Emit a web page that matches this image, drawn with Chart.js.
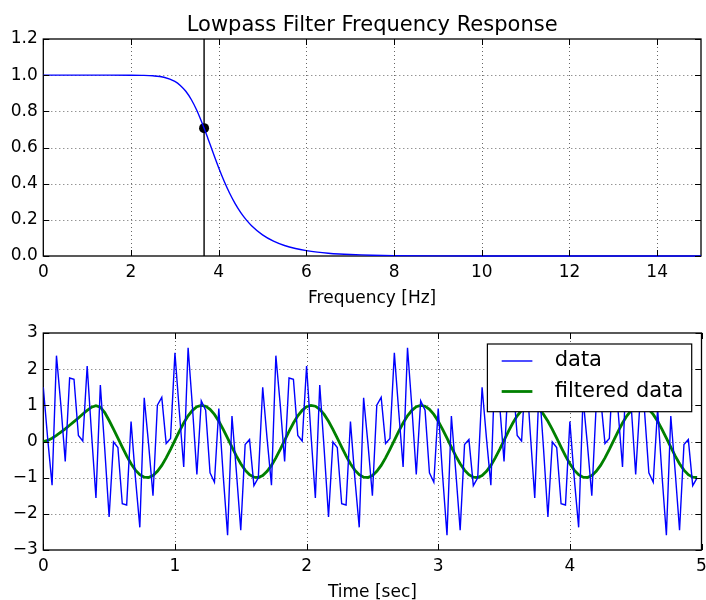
<!DOCTYPE html>
<html>
<head>
<meta charset="utf-8">
<script src="https://cdn.jsdelivr.net/npm/chart.js@4.4.1/dist/chart.umd.min.js"></script>
<style>
html, body { margin: 0; padding: 0; background: #fff; overflow: hidden; width: 706px; height: 600px; }
#c1 { position: absolute; left: 0; top: 0; }
#c2 { position: absolute; left: 0; top: 310px; }
</style>
</head>
<body>
<canvas id="c1" width="706" height="310"></canvas>
<canvas id="c2" width="706" height="300"></canvas>
<script>
// ---------- Top chart: frequency response ----------
const FREQ_HZ = [0, 0.5, 1, 1.5, 2, 2.25, 2.5, 2.75, 3, 3.125, 3.25, 3.375, 3.5, 3.667, 3.75, 3.875,
  4, 4.125, 4.25, 4.375, 4.5, 4.625, 4.75, 5, 5.25, 5.5, 5.75, 6, 6.25, 6.5, 6.75, 7, 7.25, 7.5,
  8, 9, 10, 11, 12, 13, 14, 15];
const GAIN = [1, 1, 1, 1, 0.9998, 0.999, 0.9964, 0.9882, 0.9654, 0.9434, 0.9109, 0.8654, 0.8059, 0.7071, 0.653, 0.5692,
  0.488, 0.4131, 0.3468, 0.2898, 0.2415, 0.2011, 0.1675, 0.1168, 0.082, 0.058, 0.0413, 0.0296, 0.0213, 0.0154, 0.0112, 0.0082, 0.006, 0.0044,
  0.0023, 0.0006, 0.0002, 0.00003, 0.000005, 0, 0, 0];
const CUTOFF_HZ = 3.667;
const CUTOFF_GAIN = 0.7071;
const FREQ_TICKS = [0, 2, 4, 6, 8, 10, 12, 14];
const GAIN_TICKS = [0, 0.2, 0.4, 0.6, 0.8, 1.0, 1.2];

// ---------- Bottom chart: time signal ----------
const TIME_SEC = [
  0,0.0333,0.0667,0.1,0.1333,0.1667,0.2,0.2333,0.2667,0.3,0.3333,0.3667,0.4,0.4333,0.4667,0.5,0.5333,0.5667,0.6,0.6333,0.6667,0.7,0.7333,0.7667,0.8,0.8333,0.8667,0.9,0.9333,0.9667,
  1,1.0333,1.0667,1.1,1.1333,1.1667,1.2,1.2333,1.2667,1.3,1.3333,1.3667,1.4,1.4333,1.4667,1.5,1.5333,1.5667,1.6,1.6333,1.6667,1.7,1.7333,1.7667,1.8,1.8333,1.8667,1.9,1.9333,1.9667,
  2,2.0333,2.0667,2.1,2.1333,2.1667,2.2,2.2333,2.2667,2.3,2.3333,2.3667,2.4,2.4333,2.4667,2.5,2.5333,2.5667,2.6,2.6333,2.6667,2.7,2.7333,2.7667,2.8,2.8333,2.8667,2.9,2.9333,2.9667,
  3,3.0333,3.0667,3.1,3.1333,3.1667,3.2,3.2333,3.2667,3.3,3.3333,3.3667,3.4,3.4333,3.4667,3.5,3.5333,3.5667,3.6,3.6333,3.6667,3.7,3.7333,3.7667,3.8,3.8333,3.8667,3.9,3.9333,3.9667,
  4,4.0333,4.0667,4.1,4.1333,4.1667,4.2,4.2333,4.2667,4.3,4.3333,4.3667,4.4,4.4333,4.4667,4.5,4.5333,4.5667,4.6,4.6333,4.6667,4.7,4.7333,4.7667,4.8,4.8333,4.8667,4.9,4.9333,4.9667
];
const DATA = [
  1.5,0.079,-1.2073,2.3736,1.014,-0.5489,1.7555,1.7203,0.1668,0.0131,
  2.0878,0.1985,-1.5637,1.5637,-0.1985,-2.0878,-0.0131,-0.1668,-1.7203,-1.7555,
  0.5489,-1.014,-2.3736,1.2073,-0.079,-1.5,1.0061,1.2198,-0.0535,0.0869,
  2.4511,0.8284,-0.7068,2.5939,0.9402,-0.9122,1.1255,0.8633,-0.8633,-1.1255,
  0.9122,-0.9402,-2.5939,0.7068,-0.8284,-2.4511,-0.0869,0.0535,-1.2198,-1.0061,
  1.5,0.079,-1.2073,2.3736,1.014,-0.5489,1.7555,1.7203,0.1668,0.0131,
  2.0878,0.1985,-1.5637,1.5637,-0.1985,-2.0878,-0.0131,-0.1668,-1.7203,-1.7555,
  0.5489,-1.014,-2.3736,1.2073,-0.079,-1.5,1.0061,1.2198,-0.0535,0.0869,
  2.4511,0.8284,-0.7068,2.5939,0.9402,-0.9122,1.1255,0.8633,-0.8633,-1.1255,
  0.9122,-0.9402,-2.5939,0.7068,-0.8284,-2.4511,-0.0869,0.0535,-1.2198,-1.0061,
  1.5,0.079,-1.2073,2.3736,1.014,-0.5489,1.7555,1.7203,0.1668,0.0131,
  2.0878,0.1985,-1.5637,1.5637,-0.1985,-2.0878,-0.0131,-0.1668,-1.7203,-1.7555,
  0.5489,-1.014,-2.3736,1.2073,-0.079,-1.5,1.0061,1.2198,-0.0535,0.0869,
  2.4511,0.8284,-0.7068,2.5939,0.9402,-0.9122,1.1255,0.8633,-0.8633,-1.1255,
  0.9122,-0.9402,-2.5939,0.7068,-0.8284,-2.4511,-0.0869,0.0535,-1.2198,-1.0061
];
const FILTERED = [
  0,0.03,0.09,0.17,0.26,0.35,0.45,0.55,0.65,0.76,0.86,0.95,0.99,0.95,0.8,0.58,0.34,0.0924,-0.1582,-0.3987,-0.6143,-0.791,-0.9184,-0.988,-0.9954,
  -0.9403,-0.8261,-0.66,-0.4524,-0.2164,0.0332,0.2807,0.5105,0.7083,0.8616,0.9608,0.9996,0.9755,0.8902,0.749,0.5606,0.3371,0.0924,-0.1582,-0.3987,-0.6143,-0.791,-0.9184,-0.988,-0.9954,
  -0.9403,-0.8261,-0.66,-0.4524,-0.2164,0.0332,0.2807,0.5105,0.7083,0.8616,0.9608,0.9996,0.9755,0.8902,0.749,0.5606,0.3371,0.0924,-0.1582,-0.3987,-0.6143,-0.791,-0.9184,-0.988,-0.9954,
  -0.9403,-0.8261,-0.66,-0.4524,-0.2164,0.0332,0.2807,0.5105,0.7083,0.8616,0.9608,0.9996,0.9755,0.8902,0.749,0.5606,0.3371,0.0924,-0.1582,-0.3987,-0.6143,-0.791,-0.9184,-0.988,-0.9954,
  -0.9403,-0.8261,-0.66,-0.4524,-0.2164,0.0332,0.2807,0.5105,0.7083,0.8616,0.9608,0.9996,0.9755,0.8902,0.749,0.5606,0.3371,0.0924,-0.1582,-0.3987,-0.6143,-0.791,-0.9184,-0.988,-0.9954,
  -0.9403,-0.8261,-0.66,-0.4524,-0.2164,0.0332,0.2807,0.5105,0.7083,0.8616,0.9608,0.9996,0.9755,0.8902,0.749,0.5606,0.3371,0.0924,-0.1582,-0.3987,-0.6143,-0.791,-0.9184,-0.988,-0.9954
];
const TIME_TICKS = [0, 1, 2, 3, 4, 5];
const AMP_TICKS = [-3, -2, -1, 0, 1, 2, 3];

const FONT = '"DejaVu Sans", "Liberation Sans", sans-serif';
Chart.defaults.font.family = FONT;
Chart.defaults.color = '#000';

// dotted grid, frame and inward ticks on all four sides (matplotlib classic look)
const axesDecor = {
  id: 'axesDecor',
  beforeDatasetsDraw(chart) {
    const { ctx, chartArea: a, scales: { x, y } } = chart;
    ctx.save();
    ctx.strokeStyle = 'rgba(0,0,0,0.6)';
    ctx.lineWidth = 1;
    ctx.setLineDash([1, 3]);
    x.ticks.forEach(t => {
      const px = Math.round(x.getPixelForValue(t.value)) + 0.5;
      if (px > a.left + 2 && px < a.right - 2) {
        ctx.beginPath(); ctx.moveTo(px, a.bottom); ctx.lineTo(px, a.top); ctx.stroke();
      }
    });
    y.ticks.forEach(t => {
      const py = Math.round(y.getPixelForValue(t.value)) + 0.5;
      if (py > a.top + 2 && py < a.bottom - 2) {
        ctx.beginPath(); ctx.moveTo(a.left, py); ctx.lineTo(a.right, py); ctx.stroke();
      }
    });
    ctx.setLineDash([]);
    ctx.strokeStyle = '#000';
    ctx.lineWidth = 1.3;
    ctx.strokeRect(a.left, a.top, a.right - a.left, a.bottom - a.top);
    ctx.restore();
  },
  afterDatasetsDraw(chart) {
    const { ctx, chartArea: a, scales: { x, y } } = chart;
    const L = 6;
    ctx.save();
    ctx.strokeStyle = '#000';
    ctx.lineWidth = 1;
    x.ticks.forEach(t => {
      const px = Math.round(x.getPixelForValue(t.value)) + 0.5;
      ctx.beginPath();
      ctx.moveTo(px, a.bottom); ctx.lineTo(px, a.bottom - L);
      ctx.moveTo(px, a.top); ctx.lineTo(px, a.top + L);
      ctx.stroke();
    });
    y.ticks.forEach(t => {
      const py = Math.round(y.getPixelForValue(t.value)) + 0.5;
      ctx.beginPath();
      ctx.moveTo(a.left, py); ctx.lineTo(a.left + L, py);
      ctx.moveTo(a.right, py); ctx.lineTo(a.right - L, py);
      ctx.stroke();
    });
    ctx.restore();
  }
};

// boxed legend in the upper right of the plot area
const boxLegend = {
  id: 'boxLegend',
  afterDraw(chart, args, o) {
    if (!o || !o.show) return;
    const { ctx, chartArea: a } = chart;
    const ds = chart.data.datasets;
    ctx.save();
    ctx.font = o.fontSize + 'px ' + FONT;
    const textW = Math.max(...ds.map(d => ctx.measureText(d.label).width));
    const w = o.padLeft + o.lineLen + o.gap + textW + o.padRight;
    const right = a.right - o.offsetRight;
    const left = right - w;
    const top = a.top + o.offsetTop;
    ctx.fillStyle = '#fff';
    ctx.fillRect(left, top, w, o.height);
    ctx.strokeStyle = '#000';
    ctx.lineWidth = 1.2;
    ctx.strokeRect(left, top, w, o.height);
    ds.forEach((d, i) => {
      const cy = top + o.firstRow + i * o.rowGap;
      ctx.strokeStyle = d.borderColor;
      ctx.lineWidth = d.borderWidth;
      ctx.beginPath();
      ctx.moveTo(left + o.padLeft, cy);
      ctx.lineTo(left + o.padLeft + o.lineLen, cy);
      ctx.stroke();
      ctx.fillStyle = '#000';
      ctx.textAlign = 'left';
      ctx.textBaseline = 'middle';
      ctx.fillText(d.label, left + o.padLeft + o.lineLen + o.gap, cy);
    });
    ctx.restore();
  }
};

function fixedTicks(values) {
  return scale => { scale.ticks = values.map(v => ({ value: v })); };
}
function fitWidth(w) {
  return scale => { scale.width = w; scale.paddingTop = 0; scale.paddingBottom = 0; scale.paddingLeft = 0; scale.paddingRight = 0; };
}
function fitHeight(h) {
  return scale => { scale.height = h; scale.paddingTop = 0; scale.paddingBottom = 0; scale.paddingLeft = 0; scale.paddingRight = 0; };
}
const minus = v => (v < 0 ? '\u2212' + Math.abs(v) : String(v));

const common = {
  responsive: false,
  animation: false,
  devicePixelRatio: 1,
  events: [],
};

// ---------- Chart 1 ----------
new Chart(document.getElementById('c1'), {
  type: 'line',
  data: {
    datasets: [
      {
        label: 'response',
        data: FREQ_HZ.map((f, i) => ({ x: f, y: GAIN[i] })),
        borderColor: '#0000ff',
        borderWidth: 1.4,
        pointRadius: 0,
        cubicInterpolationMode: 'monotone',
        clip: 2,
        fill: false
      },
      {
        label: 'cutoff point',
        data: [{ x: CUTOFF_HZ, y: CUTOFF_GAIN }],
        showLine: false,
        pointRadius: 5,
        pointBackgroundColor: '#000',
        pointBorderColor: '#000',
        pointBorderWidth: 0
      },
      {
        label: 'cutoff line',
        data: [{ x: CUTOFF_HZ, y: GAIN_TICKS[0] }, { x: CUTOFF_HZ, y: GAIN_TICKS[GAIN_TICKS.length - 1] }],
        borderColor: '#000',
        borderWidth: 1.4,
        pointRadius: 0,
        fill: false
      }
    ]
  },
  options: Object.assign({}, common, {
    layout: { padding: { left: 0, right: 4.5, top: 0, bottom: 0 } },
    plugins: {
      legend: { display: false },
      tooltip: { enabled: false },
      title: {
        display: true,
        text: 'Lowpass Filter Frequency Response',
        fullSize: false,
        color: '#000',
        font: { size: 21, weight: 'normal' },
        padding: { top: 12.8, bottom: 1.0 }
      }
    },
    scales: {
      x: {
        type: 'linear', position: 'bottom', min: 0, max: 15,
        afterBuildTicks: fixedTicks(FREQ_TICKS),
        afterFit: fitHeight(54),
        grid: { display: false, drawTicks: false },
        border: { display: false },
        ticks: { font: { size: 17 }, color: '#000', padding: 6, maxRotation: 0, callback: v => String(v) },
        title: { display: true, text: 'Frequency [Hz]', color: '#000', font: { size: 17 }, padding: { top: 0, bottom: 0.8 } }
      },
      y: {
        type: 'linear', min: 0, max: 1.2,
        afterBuildTicks: fixedTicks(GAIN_TICKS),
        afterFit: fitWidth(43.3),
        grid: { display: false, drawTicks: false },
        border: { display: false },
        ticks: { font: { size: 17 }, color: '#000', padding: 5.5, callback: v => Number(v).toFixed(1) }
      }
    }
  }),
  plugins: [axesDecor]
});

// ---------- Chart 2 ----------
new Chart(document.getElementById('c2'), {
  type: 'line',
  data: {
    datasets: [
      {
        label: 'data',
        data: TIME_SEC.map((t, i) => ({ x: t, y: DATA[i] })),
        borderColor: '#0000ff',
        borderWidth: 1.4,
        pointRadius: 0,
        tension: 0,
        fill: false
      },
      {
        label: 'filtered data',
        data: TIME_SEC.map((t, i) => ({ x: t, y: FILTERED[i] })),
        borderColor: '#008000',
        borderWidth: 2.8,
        pointRadius: 0,
        tension: 0,
        fill: false
      }
    ]
  },
  options: Object.assign({}, common, {
    layout: { padding: { left: 0, right: 4.5, top: 23, bottom: 0 } },
    plugins: {
      legend: { display: false },
      tooltip: { enabled: false },
      title: { display: false },
      boxLegend: {
        show: true, fontSize: 21, offsetRight: 9.8, offsetTop: 11, height: 67.7,
        firstRow: 17, rowGap: 30.5, padLeft: 14.3, lineLen: 30.7, gap: 22.3, padRight: 8.4
      }
    },
    scales: {
      x: {
        type: 'linear', position: 'bottom', min: 0, max: 5,
        afterBuildTicks: fixedTicks(TIME_TICKS),
        afterFit: fitHeight(60),
        grid: { display: false, drawTicks: false },
        border: { display: false },
        ticks: { font: { size: 17 }, color: '#000', padding: 6.2, maxRotation: 0, callback: v => String(v) },
        title: { display: true, text: 'Time [sec]', color: '#000', font: { size: 17 }, padding: { top: 0, bottom: 6.8 } }
      },
      y: {
        type: 'linear', min: -3, max: 3,
        afterBuildTicks: fixedTicks(AMP_TICKS),
        afterFit: fitWidth(43.3),
        grid: { display: false, drawTicks: false },
        border: { display: false },
        ticks: { font: { size: 17 }, color: '#000', padding: 5.5, callback: minus }
      }
    }
  }),
  plugins: [axesDecor, boxLegend]
});
</script>
</body>
</html>
